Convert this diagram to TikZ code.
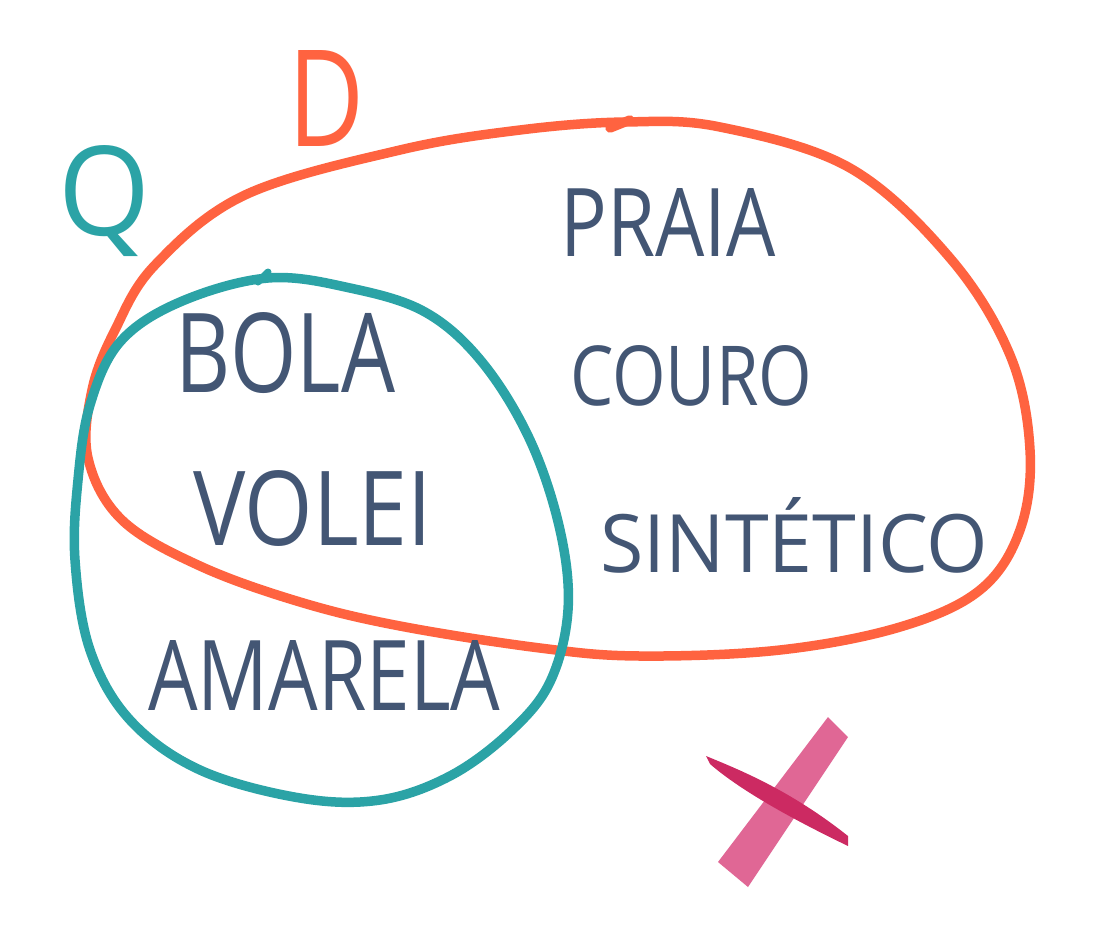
\documentclass[tikz,border=0pt]{standalone}
\usepackage{fontspec}
\setmainfont{Open Sans}
\usepackage{graphicx}
\definecolor{dorange}{HTML}{FF6340}
\definecolor{qteal}{HTML}{2BA3A6}
\definecolor{inkblue}{HTML}{435674}
\definecolor{xpink}{HTML}{DD5A8C}
\definecolor{xdark}{HTML}{CC2A62}
\tikzset{
  setline/.style={line width=9.5pt, line cap=round, line join=round},
  word/.style={anchor=north west, inner sep=0pt, text=inkblue, font=\fontsize{80}{80}\selectfont},
  setlabel/.style={anchor=north west, inner sep=0pt, font=\fontsize{80}{80}\selectfont}
}
\newcommand{\fitword}[3]{\resizebox{#1pt}{#2pt}{#3}}
\begin{document}
\begin{tikzpicture}[x=1pt,y=-1pt]
\useasboundingbox (0,0) rectangle (1100,930);
% D set (orange)
\draw[setline, dorange] plot[smooth cycle, tension=0.6] coordinates {
 (400,150) (520,130) (625,122) (720,127) (850,168) (950,258) (1010,355) (1030,450) (1020,530)
 (980,590) (900,627) (780,650) (640,656) (540,648) (400,626) (300,602) (200,566)
 (122,520) (88,458) (92,390) (115,330) (155,265) (245,195)};
\draw[setline, dorange] (610,128) -- (630,120);
% Q set (teal)
\draw[setline, qteal] plot[smooth cycle, tension=0.6] coordinates {
 (268,278) (350,288) (425,312) (482,362) (530,440) (560,530) (568,610) (550,682)
 (510,732) (450,776) (380,800) (300,798) (200,770) (130,720) (90,650) (75,560)
 (78,480) (90,405) (120,342) (180,302)};
\draw[setline, qteal, line width=7pt] (258,282) -- (268,272);
% labels
\node[setlabel, text=qteal] (qlab) at (58,145) {\fitword{92}{90}{Q}};
\node[setlabel, text=dorange] (dlab) at (288,50) {\fitword{76}{96}{D}};
% words
\node[word] (praia) at (560,188) {\fitword{215}{68}{PRAIA}};
\node[word] (couro) at (570,345) {\fitword{242}{60}{COURO}};
\node[word] (sintetico) at (600,497) {\fitword{388}{75}{SINTÉTICO}};
\node[word] (bola) at (175,312) {\fitword{220}{80}{BOLA}};
\node[word] (volei) at (193,470) {\fitword{239}{75}{VOLEI}};
\node[word] (amarela) at (148,640) {\fitword{352}{70}{AMARELA}};
% X mark
\fill[xpink, opacity=0.92] (828,717) -- (848,737) -- (748,887) -- (718,862) -- cycle;
\fill[xdark] (706,756) .. controls (740,770) and (790,790) .. (848,836)
  -- (848,846) .. controls (790,818) and (740,790) .. (710,764) -- cycle;
\end{tikzpicture}
\end{document}
